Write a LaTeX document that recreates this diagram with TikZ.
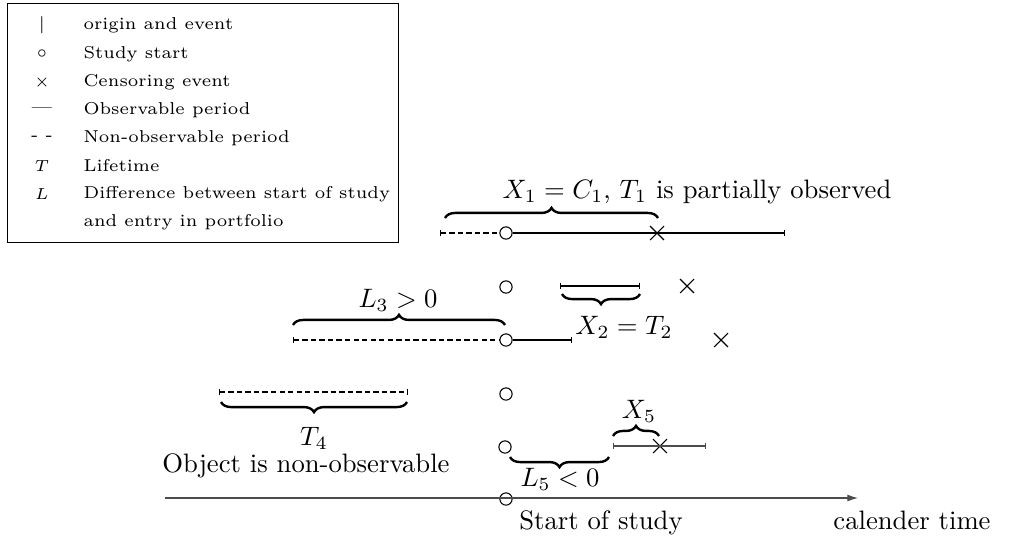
\documentclass[tikz,border=0pt]{standalone}
\usetikzlibrary{decorations.pathreplacing,shapes.misc,arrows.meta}
\begin{document}
\begin{tikzpicture}[x=0.375pt,y=-0.375pt,
 circ/.style={circle,draw,inner sep=0pt,minimum size=4.6pt},
 crossmk/.style={cross out,draw,inner sep=0pt,minimum size=4.8pt},
 nonobs/.style={dash pattern=on 2pt off 1.2pt},
 endbar/.style={{Bar[width=2.6pt]}-{Bar[width=2.6pt]}},
 brup/.style={decorate,decoration={brace,amplitude=3.8pt},line width=0.9pt},
 brdown/.style={decorate,decoration={brace,amplitude=3.8pt,mirror},line width=0.9pt},
 lbl/.style={font=\normalsize,inner sep=0pt},
 legfont/.style={font=\fontsize{6.45}{8}\selectfont},
 legsym/.style={legfont,inner sep=0pt},
 legtxt/.style={legfont,anchor=west,inner sep=0pt},
 greyline/.style={draw=black!70}
]
\useasboundingbox (0,0) rectangle (1020,541);

% legend
\node[draw,line width=0.4pt,minimum width=146.6pt,minimum height=89.6pt,inner sep=0pt,anchor=north west] (legend) at (7,3) {};
\node[legsym] (s1) at (42,25) {|};
\node[legtxt] (t1) at (83,25) {origin and event};
\node[legsym] (s2) at (42,54) {$\circ$};
\node[legtxt] (t2) at (83,54) {Study start};
\node[legsym] (s3) at (42,82) {$\times$};
\node[legtxt] (t3) at (83,82) {Censoring event};
\node[legsym] (s4) at (42,110) {---};
\node[legtxt] (t4) at (83,110) {Observable period};
\node[legsym] (s5) at (42,138) {- -};
\node[legtxt] (t5) at (83,138) {Non-observable period};
\node[legsym] (s6) at (42,166) {$T$};
\node[legtxt] (t6) at (83,166) {Lifetime};
\node[legsym] (s7) at (42,194) {$L$};
\node[legtxt] (t7) at (83,194) {Difference between start of study};
\node[legtxt] (t8) at (83,222) {and entry in portfolio};

% study-start circles
\node[circ] (c1) at (506,233) {};
\node[circ] (c2) at (506,287) {};
\node[circ] (c3) at (506,340) {};
\node[circ] (c4) at (506,394) {};
\node[circ] (c5) at (505,447) {};
\node[circ] (c6) at (506,499) {};

% row 1
\coordinate (a1) at (440,233);
\node[crossmk] (x1) at (657,233) {};
\coordinate (e1) at (785,233);
\draw[nonobs,{Bar[width=2.6pt]}-] (a1) -- (c1.west);
\draw (c1.east) -- (x1.center);
\draw[-{Bar[width=2.6pt]}] (x1.center) -- (e1);
\coordinate (b1l) at (445,218);
\coordinate (b1r) at (658,218);
\draw[brup] (b1l) -- (b1r);
\node[lbl] (l1) at (697,192) {$X_1 = C_1$, $T_1$ is partially observed};

% row 2
\coordinate (a2) at (560,286);
\coordinate (e2) at (640,286);
\draw[endbar] (a2) -- (e2);
\coordinate (b2l) at (562,294);
\coordinate (b2r) at (640,294);
\draw[brdown] (b2l) -- (b2r);
\node[lbl] (l2) at (624,327) {$X_2 = T_2$};
\node[crossmk] (x2) at (687,286) {};

% row 3
\coordinate (a3) at (293,340);
\coordinate (e3) at (572,340);
\draw[nonobs,{Bar[width=2.6pt]}-] (a3) -- (c3.west);
\draw[-{Bar[width=2.6pt]}] (c3.east) -- (e3);
\coordinate (b3l) at (293,325);
\coordinate (b3r) at (505,325);
\draw[brup] (b3l) -- (b3r);
\node[lbl] (l3) at (398,300) {$L_3 > 0$};
\node[crossmk] (x3) at (721,340) {};

% row 4
\coordinate (a4) at (219,392);
\coordinate (e4) at (408,392);
\draw[nonobs,endbar] (a4) -- (e4);
\coordinate (b4l) at (221,402);
\coordinate (b4r) at (407,402);
\draw[brdown] (b4l) -- (b4r);
\node[lbl] (l4) at (314,438) {$T_4$};
\node[lbl] (l4b) at (306,466) {Object is non-observable};

% row 5
\coordinate (b5l) at (510,457);
\coordinate (b5r) at (609,457);
\draw[brdown] (b5l) -- (b5r);
\node[lbl] (l5) at (560,479) {$L_5 < 0$};
\coordinate (a5) at (613,446);
\node[crossmk] (x5) at (660,446) {};
\coordinate (e5) at (706,446);
\draw[greyline,endbar] (a5) -- (e5);
\coordinate (b5ul) at (613,436);
\coordinate (b5ur) at (659,436);
\draw[brup] (b5ul) -- (b5ur);
\node[lbl] (l5u) at (639,411) {$X_5$};

% axis
\coordinate (ax0) at (165,498);
\coordinate (ax1) at (858,498);
\draw[greyline,-{Latex[length=4pt,width=2.6pt]}] (ax0) -- (ax1);
\node[lbl] (st) at (601,523) {Start of study};
\node[lbl] (ct) at (912,520) {calender time};
\end{tikzpicture}
\end{document}
